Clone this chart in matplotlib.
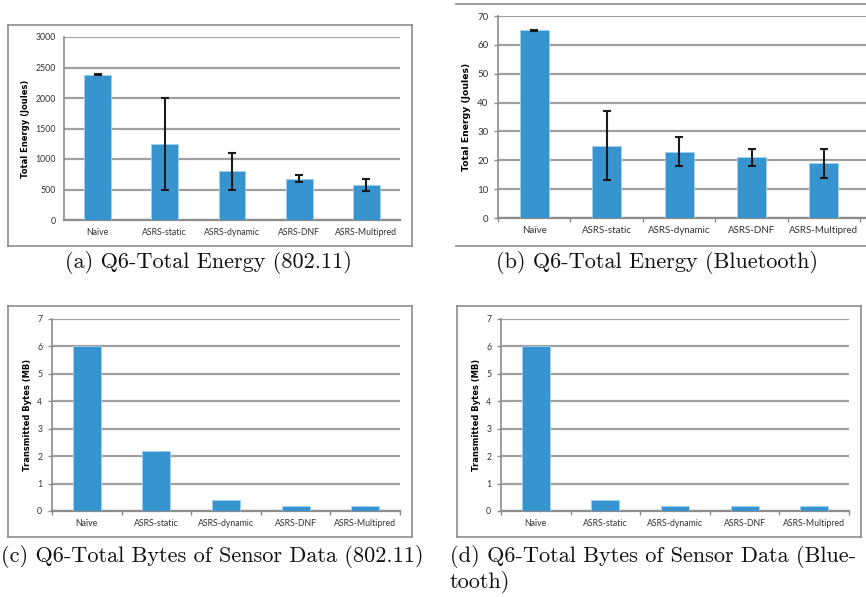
import matplotlib.pyplot as plt
from matplotlib.lines import Line2D

W, H = 866, 597

categories = ['Naïve', 'ASRS-static', 'ASRS-dynamic', 'ASRS-DNF', 'ASRS-Multipred']

energy_wifi = [2380, 1250, 800, 680, 580]
energy_wifi_err = [8, 750, 300, 50, 100]

energy_bt = [65, 25, 23, 21, 19]
energy_bt_err = [0.1, 12, 5, 3, 5]

bytes_wifi = [6, 2.2, 0.4, 0.2, 0.2]
bytes_bt = [6, 0.4, 0.2, 0.2, 0.2]

BAR = '#3794cf'
GRID = '#a0a0a0'
SPINE = '#8c8c8c'
TICKFONT = 'Lato'

fig = plt.figure(figsize=(W / 100, H / 100), dpi=100)


def px_axes(x0, y0, x1, y1):
    return fig.add_axes([x0 / W, 1 - y1 / H, (x1 - x0) / W, (y1 - y0) / H])


def frame(x0, y0, x1, y1, sides=('l', 'r', 't', 'b')):
    fx0, fx1 = x0 / W, x1 / W
    fy0, fy1 = 1 - y1 / H, 1 - y0 / H
    segs = {'l': ([fx0, fx0], [fy0, fy1]), 'r': ([fx1, fx1], [fy0, fy1]),
            't': ([fx0, fx1], [fy1, fy1]), 'b': ([fx0, fx1], [fy0, fy0])}
    for s in sides:
        fig.lines.append(Line2D(*segs[s], transform=fig.transFigure, color=SPINE, lw=1.2))


def panel(ax, values, ymax, step, ylabel, err=None, xright=4.5, ticks=True, fs=6.3):
    x = range(len(values))
    ax.bar(x, values, width=0.4, color=BAR, edgecolor='#9fd0ef', linewidth=0.6, zorder=3)
    if err is not None:
        ax.errorbar(x, values, yerr=err, fmt='none', ecolor='#1a1a1a', elinewidth=1.5,
                    capsize=2.8, capthick=1.5, zorder=4)
    ax.set_xlim(-0.5, xright)
    ax.set_ylim(0, ymax)
    ax.set_yticks(range(0, ymax + 1, step))
    ax.yaxis.grid(True, color=GRID, lw=1.6, zorder=0)
    ax.set_axisbelow(True)
    for s in ('top', 'right'):
        ax.spines[s].set_visible(False)
    ax.spines['left'].set_color(SPINE)
    ax.spines['bottom'].set_color(SPINE)
    ax.spines['left'].set_linewidth(1.2)
    ax.spines['bottom'].set_linewidth(1.6)
    ax.set_xticks(list(x))
    ax.set_xticklabels(categories, fontsize=fs, family=TICKFONT, color='#333333')
    ax.tick_params(axis='x', length=0, pad=6)
    ax.tick_params(axis='y', length=3 if ticks else 0, color=SPINE, width=1,
                   pad=4 if ticks else 6, labelsize=fs, labelcolor='#333333')
    for lab in ax.get_yticklabels():
        lab.set_family(TICKFONT)
    if ticks:
        ax.set_xticks([i + 0.5 for i in range(-1, len(values))], minor=True)
        ax.tick_params(axis='x', which='minor', length=3, color=SPINE, width=1)
    ax.set_ylabel(ylabel, fontsize=fs - 0.3, fontweight='bold', family='DejaVu Sans', labelpad=4)
    ax.patch.set_alpha(0)


# (a)
frame(8, 25, 412, 246)
ax1 = px_axes(64, 37, 400, 220)
panel(ax1, energy_wifi, 3000, 500, 'Total Energy (Joules)', err=energy_wifi_err, ticks=False)

# (b)
frame(456, 4, 866, 246, sides=('t', 'b'))
ax2 = px_axes(498, 16, 866, 218)
panel(ax2, energy_bt, 70, 10, 'Total Energy (Joules)', err=energy_bt_err, xright=4.58, fs=7.0)

# (c)
frame(8, 306, 412, 537)
ax3 = px_axes(52, 319, 400, 511)
panel(ax3, bytes_wifi, 7, 1, 'Transmitted Bytes (MB)')

# (d)
frame(457, 306, 861, 537)
ax4 = px_axes(501, 319, 849, 511)
panel(ax4, bytes_bt, 7, 1, 'Transmitted Bytes (MB)')

cap = dict(family='cmr10', fontsize=16, color='#111111')
fig.text(208 / W, 1 - 263 / H, '(a) Q6-Total Energy (802.11)', ha='center', va='center', **cap)
fig.text(657 / W, 1 - 263 / H, '(b) Q6-Total Energy (Bluetooth)', ha='center', va='center', **cap)
fig.text(1 / W, 1 - 557 / H, '(c) Q6-Total Bytes of Sensor Data (802.11)', ha='left', va='center', **cap)
fig.text(450 / W, 1 - 557 / H, '(d) Q6-Total Bytes of Sensor Data (Blue-', ha='left', va='center', **cap)
fig.text(450 / W, 1 - 582 / H, 'tooth)', ha='left', va='center', **cap)

fig.savefig('out.png', dpi=100)
